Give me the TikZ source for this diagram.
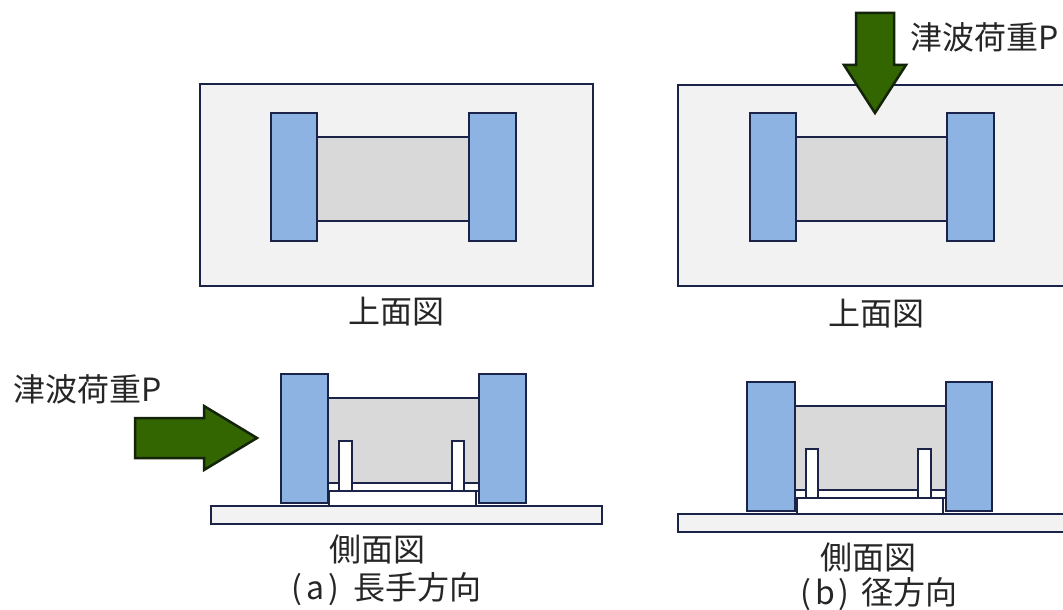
\documentclass[tikz,border=0pt]{standalone}
\usepackage{fontspec}
\setmainfont{Noto Sans CJK JP}
\definecolor{ln}{HTML}{1B2448}
\definecolor{blk}{HTML}{8DB3E2}
\definecolor{mid}{HTML}{D9D9D9}
\definecolor{pale}{HTML}{F2F2F2}
\definecolor{grn}{HTML}{336600}
\definecolor{grnline}{HTML}{14240A}
\tikzset{
 part/.style={draw=ln,line width=2.5pt,line join=miter},
 blockpart/.style={part,fill=blk},
 midpart/.style={fill=mid},
 midline/.style={draw=ln,line width=2.5pt},
 palepart/.style={part,fill=pale},
 whitepart/.style={part,fill=white},
 loadarrow/.style={draw=grnline,line width=2.5pt,fill=grn,line join=miter},
 lab/.style={inner sep=0pt,font=\fontsize{32}{32}\selectfont,text=black!85}
}
\begin{document}
\begin{tikzpicture}[x=1pt,y=-1pt]
\useasboundingbox (0,0) rectangle (1063,610);
\fill[white] (0,0) rectangle (1063,610);
% top view a
\draw[palepart] (200,84) rectangle (593,286);
\fill[midpart] (317,137) rectangle (469,221);
\draw[midline] (317,137) -- (469,137) (317,221) -- (469,221);
\draw[blockpart] (271,113) rectangle (317,241);
\draw[blockpart] (469,113) rectangle (516,241);
\node[lab] (ta) at (396,312) {上面図};
% top view b
\draw[palepart] (678,85) -- (1066,85) -- (1066,286) -- (678,286) -- cycle;
\fill[midpart] (796,137) rectangle (947,221);
\draw[midline] (796,137) -- (947,137) (796,221) -- (947,221);
\draw[blockpart] (750,113) rectangle (796,241);
\draw[blockpart] (947,113) rectangle (994,241);
\draw[loadarrow] (856,13) -- (894,13) -- (894,65) -- (906,65) -- (875,113) -- (844,65) -- (856,65) -- cycle;
\node[lab] (tb) at (876,314) {上面図};
\node[lab,anchor=west] (lb) at (910,37) {津波荷重P};
% side view a
\draw[palepart] (211,506) rectangle (602,524);
\fill[midpart] (328,398) rectangle (479,483);
\draw[midline] (328,398) -- (479,398) (328,483) -- (479,483);
\draw[midline] (328,491) -- (479,491);
\draw[whitepart] (339,441) rectangle (352,491);
\draw[whitepart] (452,441) rectangle (464,491);
\draw[whitepart] (329,491) rectangle (476,506);
\draw[blockpart] (281,374) rectangle (328,503);
\draw[blockpart] (479,374) rectangle (526,503);
\draw[loadarrow] (135,418) -- (204,418) -- (204,406) -- (257,438) -- (204,470) -- (204,458) -- (135,458) -- cycle;
\node[lab,anchor=west] (la) at (13,389) {津波荷重P};
\node[lab] (sa) at (377,549) {側面図};
\node[lab,anchor=west] (capa) at (291,589) {(\hspace{4pt}a\hspace{4pt})\hspace{15pt}長手方向};
% side view b
\draw[palepart] (678,514) -- (1066,514) -- (1066,532) -- (678,532) -- cycle;
\fill[midpart] (795,406) rectangle (946,490);
\draw[midline] (795,406) -- (946,406) (795,490) -- (946,490);
\draw[midline] (795,498) -- (946,498);
\draw[whitepart] (806,449) rectangle (818,498);
\draw[whitepart] (918,449) rectangle (931,498);
\draw[whitepart] (797,498) rectangle (943,514);
\draw[blockpart] (747,382) rectangle (795,511);
\draw[blockpart] (946,382) rectangle (992,511);
\node[lab] (sb) at (868,557) {側面図};
\node[lab,anchor=west] (capb) at (800,594) {(\hspace{4pt}b\hspace{4pt})\hspace{12pt}径方向};
\end{tikzpicture}
\end{document}
